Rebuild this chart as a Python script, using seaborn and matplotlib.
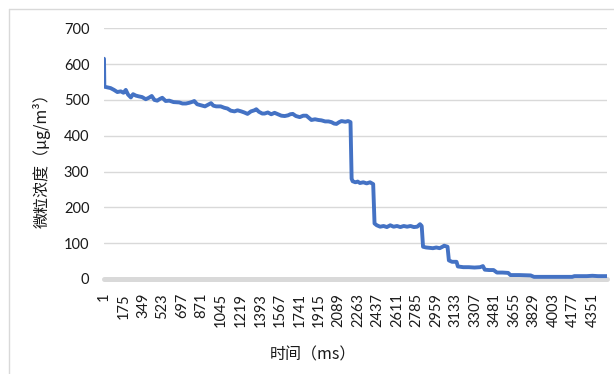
import numpy as np
import pandas as pd
import matplotlib
matplotlib.use('Agg')
import matplotlib.pyplot as plt
import seaborn as sns
from matplotlib.lines import Line2D

# values (time in ms, concentration in ug/m3)
time_ms = [1, 4, 30, 60, 90, 120, 150, 175, 195, 215, 240, 260, 285, 310, 340,
           373, 400, 426, 450, 475, 500, 520, 550, 582, 620, 671, 700, 731, 760,
           790, 805, 830, 865, 900, 930, 954, 975, 1000, 1040, 1073, 1100, 1130,
           1163, 1190, 1223, 1250, 1279, 1310, 1340, 1357, 1380, 1410, 1431, 1460,
           1490, 1520, 1550, 1580, 1610, 1640, 1660, 1682, 1710, 1744, 1775, 1803,
           1825, 1848, 1880, 1910, 1937, 1970, 2000, 2026, 2050, 2071, 2095, 2116,
           2150, 2175, 2196, 2206, 2215, 2240, 2260, 2280, 2310, 2340, 2370, 2398,
           2410, 2430, 2460, 2490, 2520, 2550, 2580, 2610, 2640, 2670, 2700, 2730,
           2760, 2790, 2815, 2830, 2842, 2870, 2900, 2930, 2960, 2990, 3015, 3030,
           3060, 3072, 3100, 3140, 3152, 3200, 3250, 3300, 3350, 3375, 3392, 3430,
           3470, 3500, 3550, 3600, 3620, 3700, 3800, 3830, 3900, 4000, 4100, 4170,
           4190, 4250, 4300, 4350, 4400, 4480]
conc = [615, 537, 535, 533, 528, 522, 524, 520, 528, 515, 507, 516, 512, 510, 508,
        502, 506, 511, 500, 498, 503, 506, 497, 498, 494, 493, 490, 490, 492,
        495, 497, 488, 485, 482, 487, 491, 484, 482, 482, 478, 476, 470,
        468, 471, 468, 465, 461, 468, 471, 474, 467, 462, 462, 465,
        460, 464, 460, 456, 455, 457, 460, 461, 455, 452, 456, 456,
        450, 444, 446, 444, 443, 440, 440, 438, 434, 433, 438, 441,
        439, 441, 438, 280, 273, 270, 272, 268, 270, 267, 270, 265,
        155, 150, 146, 148, 145, 150, 146, 148, 145, 148, 146, 148,
        145, 146, 153, 148, 90, 88, 87, 86, 88, 86, 90, 93,
        90, 52, 48, 48, 35, 33, 33, 32, 33, 36, 26, 25,
        25, 18, 18, 17, 11, 11, 10, 6, 6, 6, 6, 6,
        8, 8, 8, 9, 8, 8]

x_ticks = [1, 175, 349, 523, 697, 871, 1045, 1219, 1393, 1567, 1741, 1915, 2089,
           2263, 2437, 2611, 2785, 2959, 3133, 3307, 3481, 3655, 3829, 4003,
           4177, 4351]
y_ticks = [0, 100, 200, 300, 400, 500, 600, 700]

sns.set_style('white')
plt.rcParams['font.family'] = ['Lato', 'Noto Sans CJK SC', 'DejaVu Sans']

W, H = 614, 374
fig = plt.figure(figsize=(W / 100, H / 100), dpi=100)
ax = fig.add_axes([104 / W, 1 - 279 / H, (607 - 104) / W, (279 - 28.3) / H])

df = pd.DataFrame({'time': time_ms, 'conc': conc})
sns.lineplot(data=df, x='time', y='conc', ax=ax, color='#4472C4',
             linewidth=2.8, zorder=3)
ax.lines[0].set_solid_joinstyle('round')

ax.set_xlim(1, 4480)
ax.set_ylim(0, 700)
ax.set_xlabel('')
ax.set_ylabel('')
ax.set_yticks(y_ticks)
ax.set_xticks(x_ticks)
ax.set_xticklabels([str(t) for t in x_ticks], rotation=90, va='top', ha='center')

ax.set_axisbelow(True)
ax.grid(axis='y', color='#D9D9D9', linewidth=1)
ax.grid(axis='x', visible=False)
ax.axhline(0, color='#D9D9D9', linewidth=3.6, clip_on=False, zorder=2)
for s in ax.spines.values():
    s.set_visible(False)
ax.tick_params(length=0, labelsize=10.5, colors='#1a1a1a')
ax.tick_params(axis='y', pad=10.5)
ax.tick_params(axis='x', pad=10)

fig.text(42 / W, 1 - 157 / H, '微粒浓度（μg/m³）', rotation=90, ha='center', va='center',
         fontsize=11.5, color='#1a1a1a', family=['Noto Sans CJK SC', 'DejaVu Sans'])
fig.text(313 / W, 1 - 355 / H, '时间（ms）', ha='center', va='center',
         fontsize=11.5, color='#1a1a1a', family=['Noto Sans CJK SC', 'DejaVu Sans'])

# chart area border
fig.add_artist(Line2D([9 / W, 1], [1 - 9 / H, 1 - 9 / H], color='#D9D9D9', lw=1))
fig.add_artist(Line2D([9 / W, 9 / W], [0, 1 - 9 / H], color='#D9D9D9', lw=1))

fig.savefig('out.png', dpi=100)
